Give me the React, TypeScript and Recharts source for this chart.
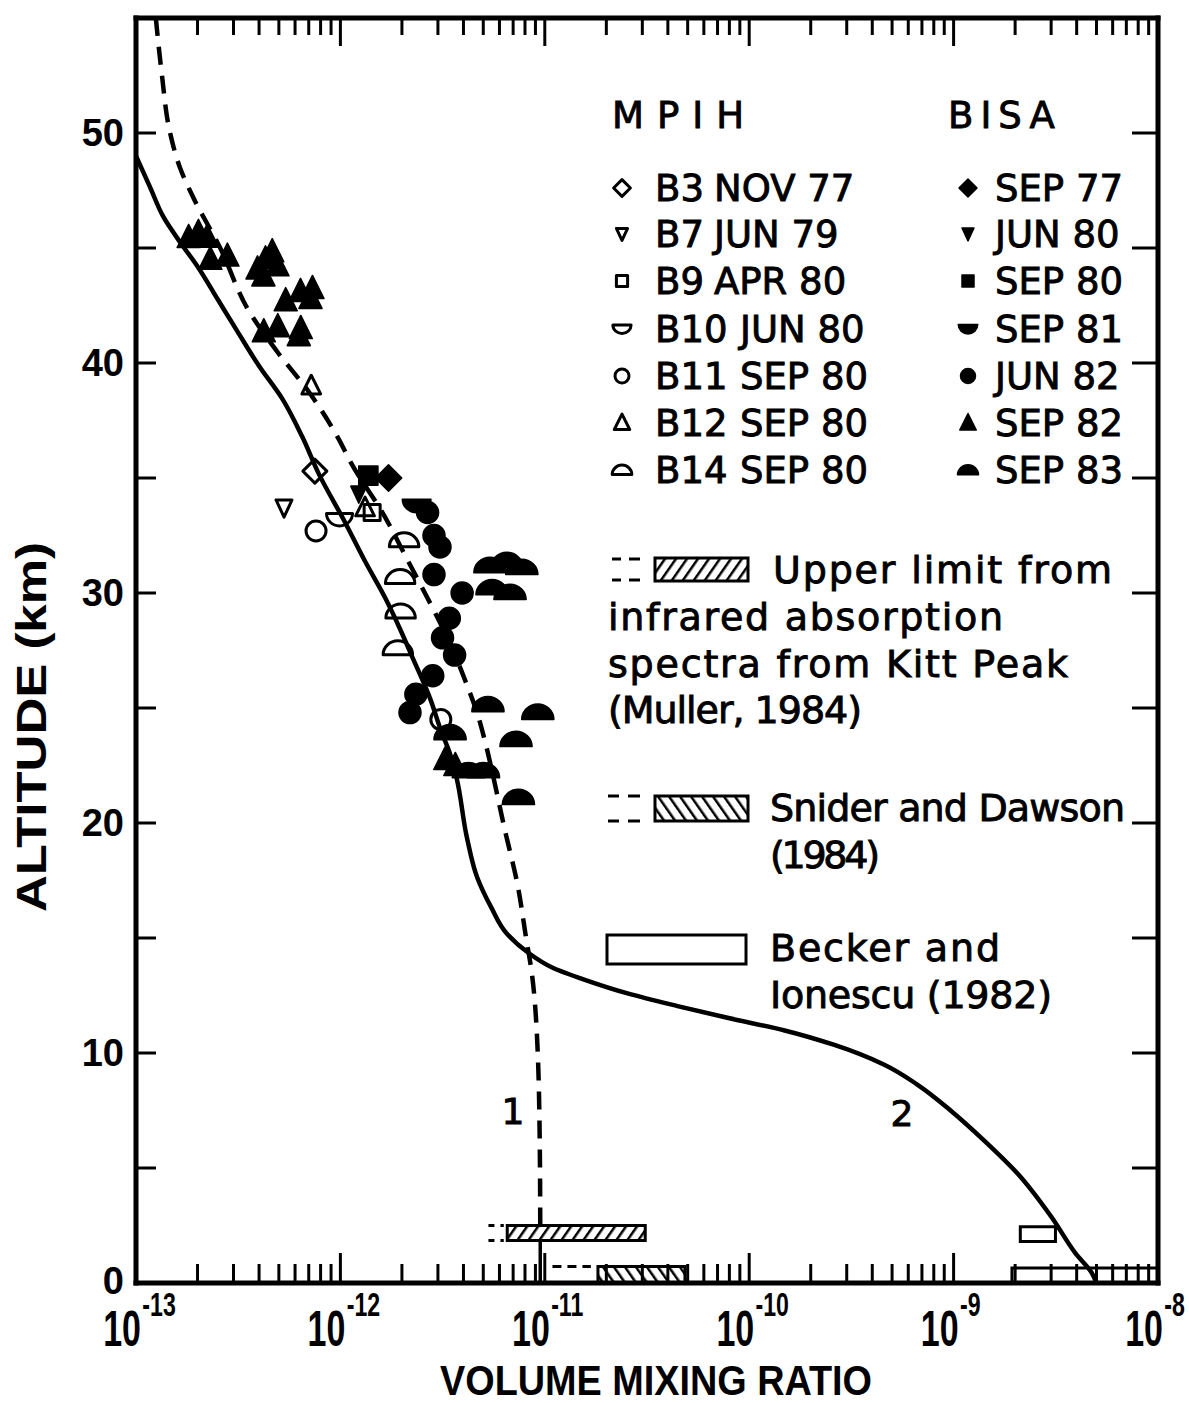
import React from 'react';
import {
  ComposedChart,
  Line,
  Scatter,
  XAxis,
  YAxis,
  ReferenceArea,
  ReferenceLine,
} from 'recharts';

// Layout of the figure (pixels)
const W = 1189;
const H = 1403;
const PLOT_LEFT = 136;
const PLOT_RIGHT = 1158;
const PLOT_TOP = 18;
const PLOT_BOTTOM = 1283;

// Axis ticks
const X_DOMAIN: [number, number] = [1e-13, 1e-8];
const xTicks: number[] = [];
for (let d = -13; d < -8; d++) {
  for (let m = 1; m <= 9; m++) xTicks.push(Number((m * Math.pow(10, d)).toPrecision(3)));
}
xTicks.push(1e-8);
const yTicks = [0, 5, 10, 15, 20, 25, 30, 35, 40, 45, 50];
const yLabelled = [0, 10, 20, 30, 40, 50];

// Model profiles (altitude km, volume mixing ratio)
const profile1 = [
  { km: 55, x: 1.25e-13 },
  { km: 52.5, x: 1.34e-13 },
  { km: 50.1, x: 1.46e-13 },
  { km: 48.5, x: 1.64e-13 },
  { km: 47.1, x: 1.93e-13 },
  { km: 45.1, x: 2.55e-13 },
  { km: 42.2, x: 3.6e-13 },
  { km: 40.5, x: 4.9e-13 },
  { km: 38.75, x: 7.0e-13 },
  { km: 36.7, x: 9.8e-13 },
  { km: 35.7, x: 1.12e-12 },
  { km: 33.4, x: 1.63e-12 },
  { km: 31.4, x: 2.14e-12 },
  { km: 29.5, x: 2.77e-12 },
  { km: 27.9, x: 3.4e-12 },
  { km: 25.9, x: 4.2e-12 },
  { km: 24.7, x: 4.7e-12 },
  { km: 23.7, x: 5.05e-12 },
  { km: 21.85, x: 5.65e-12 },
  { km: 19.9, x: 6.3e-12 },
  { km: 17.2, x: 7.4e-12 },
  { km: 15.0, x: 8.1e-12 },
  { km: 13.6, x: 8.6e-12 },
  { km: 10.8, x: 9.15e-12 },
  { km: 6, x: 9.45e-12 },
  { km: 2.5, x: 9.5e-12 },
];
const profile1Tail = [
  { km: 1.85, x: 9.5e-12 },
  { km: 0, x: 9.5e-12 },
];
const profile2 = [
  { km: 49.0, x: 1.0e-13 },
  { km: 47.66, x: 1.17e-13 },
  { km: 46.36, x: 1.36e-13 },
  { km: 45.23, x: 1.65e-13 },
  { km: 44.2, x: 2.0e-13 },
  { km: 42.77, x: 2.51e-13 },
  { km: 41.34, x: 3.15e-13 },
  { km: 39.87, x: 4.0e-13 },
  { km: 38.44, x: 5.2e-13 },
  { km: 36.8, x: 6.5e-13 },
  { km: 35.19, x: 7.83e-13 },
  { km: 33.1, x: 1.05e-12 },
  { km: 31.38, x: 1.32e-12 },
  { km: 29.77, x: 1.66e-12 },
  { km: 28.47, x: 1.95e-12 },
  { km: 27.17, x: 2.26e-12 },
  { km: 25.44, x: 2.74e-12 },
  { km: 24.0, x: 3.11e-12 },
  { km: 22.97, x: 3.45e-12 },
  { km: 21.97, x: 3.7e-12 },
  { km: 19.36, x: 4.16e-12 },
  { km: 17.63, x: 4.67e-12 },
  { km: 16.33, x: 5.47e-12 },
  { km: 15.16, x: 6.56e-12 },
  { km: 14.38, x: 8.24e-12 },
  { km: 13.73, x: 1.08e-11 },
  { km: 13.18, x: 1.57e-11 },
  { km: 12.59, x: 2.54e-11 },
  { km: 12.04, x: 4.46e-11 },
  { km: 11.53, x: 7.82e-11 },
  { km: 10.98, x: 1.49e-10 },
  { km: 10.35, x: 2.61e-10 },
  { km: 9.49, x: 4.58e-10 },
  { km: 8.63, x: 6.64e-10 },
  { km: 7.47, x: 9.76e-10 },
  { km: 6.17, x: 1.42e-9 },
  { km: 4.75, x: 2.06e-9 },
  { km: 2.89, x: 3.0e-9 },
  { km: 1.29, x: 3.95e-9 },
  { km: 0.43, x: 4.75e-9 },
  { km: 0, x: 5.0e-9 },
];

// MPIH balloon flights
const b3Nov77 = [{ x: 7.5e-13, km: 35.3 }];
const b7Jun79 = [{ x: 5.3e-13, km: 33.7 }];
const b9Apr80 = [{ x: 1.43e-12, km: 33.5 }];
const b10Jun80 = [{ x: 9.9e-13, km: 33.2 }];
const b11Sep80 = [
  { x: 7.6e-13, km: 32.7 },
  { x: 3.1e-12, km: 24.5 },
];
const b12Sep80 = [
  { x: 7.2e-13, km: 39.0 },
  { x: 1.32e-12, km: 33.7 },
];
const b14Sep80 = [
  { x: 2.05e-12, km: 32.3 },
  { x: 1.96e-12, km: 30.7 },
  { x: 1.97e-12, km: 29.2 },
  { x: 1.91e-12, km: 27.6 },
];

// BISA flights
const bisaSep77 = [{ x: 1.72e-12, km: 35.0 }];
const bisaJun80 = [{ x: 1.23e-12, km: 34.3 }];
const bisaSep80 = [{ x: 1.37e-12, km: 35.1 }];
const bisaSep81 = [{ x: 2.36e-12, km: 33.8 }];
const bisaJun82 = [
  { x: 2.67e-12, km: 33.5 },
  { x: 2.87e-12, km: 32.5 },
  { x: 3.07e-12, km: 32.0 },
  { x: 2.87e-12, km: 30.8 },
  { x: 3.94e-12, km: 30.0 },
  { x: 3.41e-12, km: 28.9 },
  { x: 3.16e-12, km: 28.05 },
  { x: 3.62e-12, km: 27.3 },
  { x: 2.83e-12, km: 26.4 },
  { x: 2.34e-12, km: 25.6 },
  { x: 2.19e-12, km: 24.8 },
];
const bisaSep82 = [
  { x: 1.81e-13, km: 45.45 },
  { x: 2.02e-13, km: 45.67 },
  { x: 2.23e-13, km: 45.46 },
  { x: 2.31e-13, km: 44.5 },
  { x: 2.8e-13, km: 44.64 },
  { x: 3.93e-13, km: 44.08 },
  { x: 4.3e-13, km: 44.52 },
  { x: 4.64e-13, km: 44.83 },
  { x: 4.92e-13, km: 44.22 },
  { x: 4.2e-13, km: 43.78 },
  { x: 5.4e-13, km: 42.7 },
  { x: 6.38e-13, km: 43.1 },
  { x: 7.3e-13, km: 43.23 },
  { x: 7.14e-13, km: 42.8 },
  { x: 4.22e-13, km: 41.35 },
  { x: 4.94e-13, km: 41.57 },
  { x: 6.4e-13, km: 41.49 },
  { x: 6.26e-13, km: 41.18 },
  { x: 3.26e-12, km: 22.75 },
  { x: 3.65e-12, km: 22.49 },
];
const bisaSep83 = [
  { x: 5.39e-12, km: 31.2 },
  { x: 6.52e-12, km: 31.42 },
  { x: 7.72e-12, km: 31.12 },
  { x: 5.52e-12, km: 30.24 },
  { x: 6.76e-12, km: 30.03 },
  { x: 5.27e-12, km: 25.15 },
  { x: 9.24e-12, km: 24.82 },
  { x: 7.23e-12, km: 23.64 },
  { x: 3.44e-12, km: 23.93 },
  { x: 4.23e-12, km: 22.28 },
  { x: 5.01e-12, km: 22.28 },
  { x: 7.43e-12, km: 21.12 },
];

// Ground based measurements
const mullerBox = { x1: 6.55e-12, x2: 3.1e-11, y1: 1.85, y2: 2.5 };
const mullerLead = { x1: 5.3e-12, x2: 6.3e-12 };
const sniderBox = { x1: 1.82e-11, x2: 4.85e-11, y1: 0, y2: 0.72 };
const sniderLead = { x1: 1.09e-11, x2: 1.68e-11 };
const beckerBoxes = [
  { x1: 2.12e-9, x2: 3.15e-9, y1: 1.8, y2: 2.45 },
  { x1: 1.93e-9, x2: 1e-8, y1: 0, y2: 0.65 },
];

type Kind = 'diamond' | 'triDown' | 'square' | 'bowl' | 'circle' | 'triUp' | 'dome';

const mpihLegend: { kind: Kind; code: string; date: string }[] = [
  { kind: 'diamond', code: 'B3', date: 'NOV 77' },
  { kind: 'triDown', code: 'B7', date: 'JUN 79' },
  { kind: 'square', code: 'B9', date: 'APR 80' },
  { kind: 'bowl', code: 'B10', date: 'JUN 80' },
  { kind: 'circle', code: 'B11', date: 'SEP 80' },
  { kind: 'triUp', code: 'B12', date: 'SEP 80' },
  { kind: 'dome', code: 'B14', date: 'SEP 80' },
];
const bisaLegend: { kind: Kind; date: string }[] = [
  { kind: 'diamond', date: 'SEP 77' },
  { kind: 'triDown', date: 'JUN 80' },
  { kind: 'square', date: 'SEP 80' },
  { kind: 'bowl', date: 'SEP 81' },
  { kind: 'circle', date: 'JUN 82' },
  { kind: 'triUp', date: 'SEP 82' },
  { kind: 'dome', date: 'SEP 83' },
];

const SANS = 'DejaVu Sans, Liberation Sans, sans-serif';
const HELV = 'Liberation Sans, Arial, sans-serif';
// slightly heavier text, like the printed original
const ink = { fill: '#000', stroke: '#000', strokeWidth: 0.9 };

function marker(kind: Kind, cx: number, cy: number, filled: boolean, s = 1) {
  const p = {
    fill: filled ? '#000' : 'none',
    stroke: '#000',
    strokeWidth: filled ? 1.5 : 3,
    strokeLinejoin: 'round' as const,
  };
  switch (kind) {
    case 'diamond': {
      const r = 12 * s;
      return <polygon points={`${cx},${cy - r} ${cx + r},${cy} ${cx},${cy + r} ${cx - r},${cy}`} {...p} />;
    }
    case 'triDown': {
      const w = 8 * s;
      return <polygon points={`${cx - w},${cy - w} ${cx + w},${cy - w} ${cx},${cy + w * 1.15}`} {...p} />;
    }
    case 'square': {
      const r = 8 * s;
      return <rect x={cx - r} y={cy - r} width={2 * r} height={2 * r} {...p} />;
    }
    case 'bowl': {
      const r = 13 * s;
      return <path d={`M${cx - r},${cy - r * 0.45} A${r},${r * 0.95} 0 0 0 ${cx + r},${cy - r * 0.45} Z`} {...p} />;
    }
    case 'circle':
      return <circle cx={cx} cy={cy} r={10 * s} {...p} />;
    case 'triUp': {
      const w = 11 * s;
      return <polygon points={`${cx},${cy - w * 1.15} ${cx + w},${cy + w * 0.85} ${cx - w},${cy + w * 0.85}`} {...p} />;
    }
    case 'dome':
    default: {
      const r = 14 * s;
      return <path d={`M${cx - r},${cy + r * 0.45} A${r},${r * 0.95} 0 0 1 ${cx + r},${cy + r * 0.45} Z`} {...p} />;
    }
  }
}

const shapeOf = (kind: Kind, filled: boolean, s: number) => (props: any) => (
  <g>{marker(kind, props.cx, props.cy, filled, s)}</g>
);

function isDecade(v: number) {
  const lg = Math.log10(v);
  return Math.abs(lg - Math.round(lg)) < 1e-6;
}

function BottomTick(props: any) {
  const { x, payload } = props;
  const v = payload.value as number;
  const major = isDecade(v);
  const edge = x < PLOT_LEFT + 3 || x > PLOT_RIGHT - 3;
  return (
    <g>
      {!edge && (
        <line x1={x} x2={x} y1={PLOT_BOTTOM} y2={PLOT_BOTTOM - (major ? 30 : 19)} stroke="#000" strokeWidth={3} />
      )}
      {major && (
        <g transform={`translate(${x + 5},${PLOT_BOTTOM + 63}) scale(0.68,1)`}>
          <text textAnchor="end" fontFamily={HELV} fontWeight="bold" fontSize={50} fill="#000">
            10
          </text>
          <text x={2} y={-30} fontFamily={HELV} fontWeight="bold" fontSize={34} fill="#000">
            {`-${-Math.round(Math.log10(v))}`}
          </text>
        </g>
      )}
    </g>
  );
}

function TopTick(props: any) {
  const { x, payload } = props;
  const major = isDecade(payload.value);
  if (x < PLOT_LEFT + 3 || x > PLOT_RIGHT - 3) return <g />;
  return <line x1={x} x2={x} y1={PLOT_TOP} y2={PLOT_TOP + (major ? 28 : 17)} stroke="#000" strokeWidth={3} />;
}

function LeftTick(props: any) {
  const { y, payload } = props;
  const v = payload.value as number;
  return (
    <g>
      {v > 0 && <line x1={PLOT_LEFT} x2={PLOT_LEFT + 20} y1={y} y2={y} stroke="#000" strokeWidth={3} />}
      {yLabelled.includes(v) && (
        <text x={124} y={y} dy={v === 0 ? 11 : 13} textAnchor="end" fontFamily={HELV} fontWeight="bold" fontSize={38} fill="#000">
          {v}
        </text>
      )}
    </g>
  );
}

function RightTick(props: any) {
  const { y, payload } = props;
  if (payload.value <= 0) return <g />;
  return <line x1={PLOT_RIGHT - 26} x2={PLOT_RIGHT} y1={y} y2={y} stroke="#000" strokeWidth={3} />;
}

const frame = { stroke: '#000', strokeWidth: 5, strokeLinecap: 'square' as const };
const ids = { xAxisId: 'b', yAxisId: 'l' };

export default function App() {
  const legendRows = [201, 247, 294, 342, 389, 436, 483];
  return (
    <div style={{ position: 'absolute', left: 0, top: 0, width: W, height: H, background: '#fff' }}>
      <svg width={0} height={0} style={{ position: 'absolute' }}>
        <defs>
          <pattern id="hatchFwd" patternUnits="userSpaceOnUse" width={9} height={9} patternTransform="rotate(35)">
            <rect width={9} height={9} fill="#fff" />
            <line x1={0} y1={0} x2={0} y2={9} stroke="#000" strokeWidth={5} />
          </pattern>
          <pattern id="hatchBack" patternUnits="userSpaceOnUse" width={9} height={9} patternTransform="rotate(-35)">
            <rect width={9} height={9} fill="#fff" />
            <line x1={0} y1={0} x2={0} y2={9} stroke="#000" strokeWidth={5} />
          </pattern>
        </defs>
      </svg>
      <ComposedChart width={W} height={H} margin={{ top: 0, right: 0, bottom: 0, left: 0 }}>
        <XAxis
          xAxisId="b"
          dataKey="x"
          type="number"
          scale="log"
          domain={X_DOMAIN}
          allowDataOverflow
          ticks={xTicks}
          interval={0}
          tickSize={0}
          tickLine={false}
          tick={(p: any) => <BottomTick {...p} />}
          axisLine={frame}
          height={H - PLOT_BOTTOM}
        />
        <XAxis
          xAxisId="t"
          orientation="top"
          dataKey="x"
          type="number"
          scale="log"
          domain={X_DOMAIN}
          allowDataOverflow
          ticks={xTicks}
          interval={0}
          tickSize={0}
          tickLine={false}
          tick={(p: any) => <TopTick {...p} />}
          axisLine={frame}
          height={PLOT_TOP}
        />
        <YAxis
          yAxisId="l"
          dataKey="km"
          type="number"
          domain={[0, 55]}
          allowDataOverflow
          ticks={yTicks}
          interval={0}
          tickSize={0}
          tickLine={false}
          tick={(p: any) => <LeftTick {...p} />}
          axisLine={frame}
          width={PLOT_LEFT}
        />
        <YAxis
          yAxisId="r"
          orientation="right"
          type="number"
          domain={[0, 55]}
          allowDataOverflow
          ticks={yTicks}
          interval={0}
          tickSize={0}
          tickLine={false}
          tick={(p: any) => <RightTick {...p} />}
          axisLine={frame}
          width={W - PLOT_RIGHT}
        />

        <ReferenceArea {...ids} {...mullerBox} fill="url(#hatchFwd)" fillOpacity={1} stroke="#000" strokeWidth={3} />
        <ReferenceArea {...ids} {...sniderBox} fill="url(#hatchBack)" fillOpacity={1} stroke="#000" strokeWidth={3} />
        {beckerBoxes.map((b, i) => (
          <ReferenceArea key={`bk-${i}`} {...ids} {...b} fill="#fff" fillOpacity={0} stroke="#000" strokeWidth={3} />
        ))}
        {[mullerBox.y1, mullerBox.y2].map((yy, i) => (
          <ReferenceLine
            key={`ml-${i}`}
            {...ids}
            segment={[{ x: mullerLead.x1, y: yy }, { x: mullerLead.x2, y: yy }]}
            stroke="#000"
            strokeWidth={3}
            strokeDasharray="6 6"
          />
        ))}
        <ReferenceLine
          {...ids}
          segment={[{ x: sniderLead.x1, y: sniderBox.y2 }, { x: sniderLead.x2, y: sniderBox.y2 }]}
          stroke="#000"
          strokeWidth={3}
          strokeDasharray="9 6"
        />

        <Line
          {...ids}
          data={profile1}
          dataKey="km"
          type="monotoneY"
          stroke="#000"
          strokeWidth={4.5}
          strokeDasharray="18 11"
          dot={false}
          isAnimationActive={false}
        />
        <Line
          {...ids}
          data={profile1Tail}
          dataKey="km"
          type="linear"
          stroke="#000"
          strokeWidth={3.5}
          dot={false}
          isAnimationActive={false}
        />
        <Line
          {...ids}
          data={profile2}
          dataKey="km"
          type="monotoneY"
          stroke="#000"
          strokeWidth={4.5}
          dot={false}
          isAnimationActive={false}
        />

        <Scatter {...ids} data={b3Nov77} dataKey="km" shape={shapeOf('diamond', false, 1)} isAnimationActive={false} />
        <Scatter {...ids} data={b7Jun79} dataKey="km" shape={shapeOf('triDown', false, 1)} isAnimationActive={false} />
        <Scatter {...ids} data={b9Apr80} dataKey="km" shape={shapeOf('square', false, 1)} isAnimationActive={false} />
        <Scatter {...ids} data={b10Jun80} dataKey="km" shape={shapeOf('bowl', false, 1)} isAnimationActive={false} />
        <Scatter {...ids} data={b11Sep80} dataKey="km" shape={shapeOf('circle', false, 1)} isAnimationActive={false} />
        <Scatter {...ids} data={b12Sep80} dataKey="km" shape={shapeOf('triUp', false, 0.85)} isAnimationActive={false} />
        <Scatter {...ids} data={b14Sep80} dataKey="km" shape={shapeOf('dome', false, 1.05)} isAnimationActive={false} />
        <Scatter {...ids} data={bisaSep77} dataKey="km" shape={shapeOf('diamond', true, 1.1)} isAnimationActive={false} />
        <Scatter {...ids} data={bisaJun80} dataKey="km" shape={shapeOf('triDown', true, 1)} isAnimationActive={false} />
        <Scatter {...ids} data={bisaSep80} dataKey="km" shape={shapeOf('square', true, 1.2)} isAnimationActive={false} />
        <Scatter {...ids} data={bisaSep81} dataKey="km" shape={shapeOf('bowl', true, 1.1)} isAnimationActive={false} />
        <Scatter {...ids} data={bisaJun82} dataKey="km" shape={shapeOf('circle', true, 1.1)} isAnimationActive={false} />
        <Scatter {...ids} data={bisaSep82} dataKey="km" shape={shapeOf('triUp', true, 1.05)} isAnimationActive={false} />
        <Scatter {...ids} data={bisaSep83} dataKey="km" shape={shapeOf('dome', true, 1.15)} isAnimationActive={false} />

        {/* axis titles */}
        <text
          x={656}
          y={1395}
          textAnchor="middle"
          fontFamily={HELV}
          fontWeight="bold"
          fontSize={42}
          textLength={432}
          lengthAdjust="spacingAndGlyphs"
          fill="#000"
        >
          VOLUME MIXING RATIO
        </text>
        <text
          transform="translate(46,727) rotate(-90)"
          textAnchor="middle"
          fontFamily={HELV}
          fontWeight="bold"
          fontSize={42}
          textLength={370}
          lengthAdjust="spacingAndGlyphs"
          fill="#000"
        >
          ALTITUDE (km)
        </text>

        {/* curve labels */}
        <text x={513} y={1124} textAnchor="middle" fontFamily={SANS} fontSize={36} {...ink}>
          1
        </text>
        <text x={902} y={1126} textAnchor="middle" fontFamily={SANS} fontSize={36} {...ink}>
          2
        </text>

        {/* balloon legend */}
        <text x={612} y={128} fontFamily={SANS} fontSize={37} letterSpacing={13} {...ink}>
          MPIH
        </text>
        <text x={948} y={128} fontFamily={SANS} fontSize={37} letterSpacing={7} {...ink}>
          BISA
        </text>
        {mpihLegend.map((e, i) => (
          <g key={`mp-${i}`}>
            {marker(e.kind, 622, legendRows[i] - 13, false, 0.7)}
            <text x={655} y={legendRows[i]} fontFamily={SANS} fontSize={37} {...ink}>
              {e.code}
            </text>
            <text x={e.code.length > 2 ? 740 : 714} y={legendRows[i]} fontFamily={SANS} fontSize={37} {...ink}>
              {e.date}
            </text>
          </g>
        ))}
        {bisaLegend.map((e, i) => (
          <g key={`bs-${i}`}>
            {marker(e.kind, 968, legendRows[i] - 13, true, 0.75)}
            <text x={995} y={legendRows[i]} fontFamily={SANS} fontSize={37} {...ink}>
              {e.date}
            </text>
          </g>
        ))}

        {/* ground based legend */}
        <g stroke="#000" strokeWidth={3}>
          <line x1={612} x2={621} y1={559} y2={559} />
          <line x1={629} x2={640} y1={559} y2={559} />
          <line x1={612} x2={621} y1={580} y2={580} />
          <line x1={629} x2={640} y1={580} y2={580} />
          <rect x={655} y={558} width={93} height={23} fill="url(#hatchFwd)" />
          <line x1={608} x2={619} y1={796} y2={796} />
          <line x1={628} x2={640} y1={796} y2={796} />
          <line x1={608} x2={619} y1={821} y2={821} />
          <line x1={628} x2={640} y1={821} y2={821} />
          <rect x={655} y={796} width={93} height={25} fill="url(#hatchBack)" />
          <rect x={607} y={935} width={139} height={29} fill="#fff" />
        </g>
        <g fontFamily={SANS} fontSize={38} {...ink}>
          <text x={773} y={583} textLength={339} lengthAdjust="spacing">Upper limit from</text>
          <text x={608} y={630} textLength={395} lengthAdjust="spacing">infrared absorption</text>
          <text x={608} y={677} textLength={460} lengthAdjust="spacing">spectra from Kitt Peak</text>
          <text x={608} y={723} textLength={254} lengthAdjust="spacing">(Muller, 1984)</text>
          <text x={770} y={821} textLength={355} lengthAdjust="spacing">Snider and Dawson</text>
          <text x={770} y={868} textLength={110} lengthAdjust="spacing">(1984)</text>
          <text x={770} y={961} textLength={230} lengthAdjust="spacing">Becker and</text>
          <text x={770} y={1008} textLength={282} lengthAdjust="spacing">Ionescu (1982)</text>
        </g>
      </ComposedChart>
    </div>
  );
}
